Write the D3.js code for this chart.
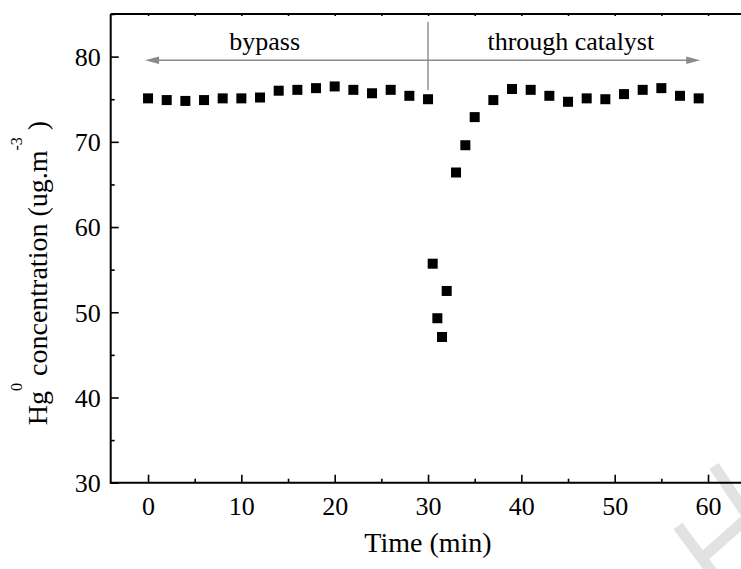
<!DOCTYPE html>
<html>
<head>
<meta charset="utf-8">
<script src="https://cdn.jsdelivr.net/npm/d3@7/dist/d3.min.js"></script>
<style>
  html, body { margin: 0; padding: 0; background: #fff; }
  svg { display: block; }
  text { font-family: "Liberation Serif", "Times New Roman", serif; fill: #000; }
</style>
</head>
<body>
<svg id="chart" width="741" height="569"></svg>
<script>
// ---- data ----
const timeMin = [0, 2, 4, 6, 8, 10, 12, 14, 16, 18, 20, 22, 24, 26, 28, 30,
                 30.5, 31, 31.5, 32, 33, 34, 35, 37, 39, 41, 43, 45, 47, 49, 51, 53, 55, 57, 59];
const hgConc = [75.1, 74.9, 74.8, 74.9, 75.1, 75.1, 75.2, 76.0, 76.1, 76.3, 76.5, 76.1, 75.7, 76.1, 75.4, 75.0,
                55.7, 49.3, 47.1, 52.5, 66.4, 69.6, 72.9, 74.9, 76.2, 76.1, 75.4, 74.7, 75.1, 75.0, 75.6, 76.1, 76.3, 75.4, 75.1];
const xTicks = [0, 10, 20, 30, 40, 50, 60];
const xMinorTicks = [5, 15, 25, 35, 45, 55, 65];
const yTicks = [30, 40, 50, 60, 70, 80];
const yMinorTicks = [35, 45, 55, 65, 75, 85];
const phaseLabels = ["bypass", "through catalyst"];
const phaseSplit = 30;
const phaseRange = [0, 59];
const xTitle = "Time (min)";

// ---- layout ----
const svg = d3.select("#chart");
const mLeft = 110.7, mTop = 14, mBottom = 482.7;
const x = d3.scaleLinear().domain([-4, 65]).range([mLeft, mLeft + 69 * 9.333]);
const y = d3.scaleLinear().domain([30, 85]).range([mBottom, mTop]);
const mRight = x(65);

// watermark fragments (light gray strokes at bottom-right)
const wm = svg.append("g").attr("stroke", "#e2e2e2").attr("stroke-width", 11).attr("fill", "none");
wm.append("line").attr("x1", 714).attr("y1", 466).attr("x2", 745).attr("y2", 512);
wm.append("line").attr("x1", 678).attr("y1", 526).attr("x2", 712).attr("y2", 572);
wm.append("line").attr("x1", 700).attr("y1", 560).attr("x2", 745).attr("y2", 520);

// frame lines
const frame = svg.append("g").attr("stroke", "#000").attr("stroke-width", 2);
frame.append("line").attr("x1", mLeft).attr("x2", mRight).attr("y1", mBottom).attr("y2", mBottom);
frame.append("line").attr("x1", mLeft).attr("x2", mRight).attr("y1", mTop).attr("y2", mTop);
frame.append("line").attr("x1", mLeft).attr("x2", mLeft).attr("y1", mTop).attr("y2", mBottom + 1);

// axes via d3 axis generators (ticks inward)
const xAxis = svg.append("g").attr("transform", `translate(0,${mBottom})`)
  .call(d3.axisBottom(x).tickValues(xTicks).tickSizeInner(-8).tickSizeOuter(0).tickPadding(14));
const xAxisMinor = svg.append("g").attr("transform", `translate(0,${mBottom})`)
  .call(d3.axisBottom(x).tickValues(xMinorTicks).tickSizeInner(-4).tickSizeOuter(0).tickFormat(""));
const xAxisTop = svg.append("g").attr("transform", `translate(0,${mTop})`)
  .call(d3.axisTop(x).tickValues(xTicks.concat(xMinorTicks)).tickSizeInner(-2).tickSizeOuter(0).tickFormat(""));
const yAxis = svg.append("g").attr("transform", `translate(${mLeft},0)`)
  .call(d3.axisLeft(y).tickValues(yTicks).tickSizeInner(-8).tickSizeOuter(0).tickPadding(10));
const yAxisMinor = svg.append("g").attr("transform", `translate(${mLeft},0)`)
  .call(d3.axisLeft(y).tickValues(yMinorTicks).tickSizeInner(-4).tickSizeOuter(0).tickFormat(""));

svg.selectAll(".domain").remove();
svg.selectAll(".tick line").attr("stroke", "#000").attr("stroke-width", 1.6);
svg.selectAll(".tick text")
  .style("font-family", '"Liberation Serif", "Times New Roman", serif')
  .style("font-size", "26px").attr("fill", "#000");
xAxis.selectAll(".tick text").attr("dy", "0.71em");
yAxis.selectAll(".tick text").attr("dy", "0.34em");

// phase annotation: double arrow + divider
const arrowY = 60.3;
const gray = "#8a8a8a";
svg.append("line").attr("x1", x(phaseRange[0]) + 8).attr("x2", x(phaseRange[1]) - 8)
  .attr("y1", arrowY).attr("y2", arrowY).attr("stroke", gray).attr("stroke-width", 1.6);
const headL = x(phaseRange[0]) - 3, headR = x(phaseRange[1]) + 1.5;
svg.append("path").attr("fill", gray)
  .attr("d", `M${headL},${arrowY} L${headL + 14},${arrowY - 3.8} L${headL + 14},${arrowY + 3.8} Z`);
svg.append("path").attr("fill", gray)
  .attr("d", `M${headR},${arrowY} L${headR - 14},${arrowY - 3.8} L${headR - 14},${arrowY + 3.8} Z`);
svg.append("line").attr("x1", x(phaseSplit)).attr("x2", x(phaseSplit))
  .attr("y1", 22).attr("y2", 90).attr("stroke", gray).attr("stroke-width", 1.4);

svg.append("text").attr("x", x(12.5)).attr("y", 50).attr("text-anchor", "middle")
  .style("font-size", "26px").text(phaseLabels[0]);
svg.append("text").attr("x", x(45.3)).attr("y", 50).attr("text-anchor", "middle")
  .style("font-size", "26px").text(phaseLabels[1]);

// data points: black squares
const sz = 10;
svg.append("g").selectAll("rect").data(timeMin.map((t, i) => [t, hgConc[i]]))
  .join("rect")
  .attr("x", d => x(d[0]) - sz / 2).attr("y", d => y(d[1]) - sz / 2)
  .attr("width", sz).attr("height", sz).attr("fill", "#000");

// axis titles
svg.append("text").attr("x", (x(0) + x(60)) / 2).attr("y", 552).attr("text-anchor", "middle")
  .style("font-size", "28px").text(xTitle);

const yt = svg.append("text").attr("transform", "translate(47,273) rotate(-90)")
  .attr("text-anchor", "middle").style("font-size", "28px");
yt.append("tspan").text("Hg");
yt.append("tspan").attr("dy", -25).style("font-size", "16px").text("0");
yt.append("tspan").attr("dy", 25).text(" concentration (ug.m");
yt.append("tspan").attr("dy", -25).style("font-size", "16px").text("-3");
yt.append("tspan").attr("dy", 25).text(" )");
</script>
</body>
</html>
